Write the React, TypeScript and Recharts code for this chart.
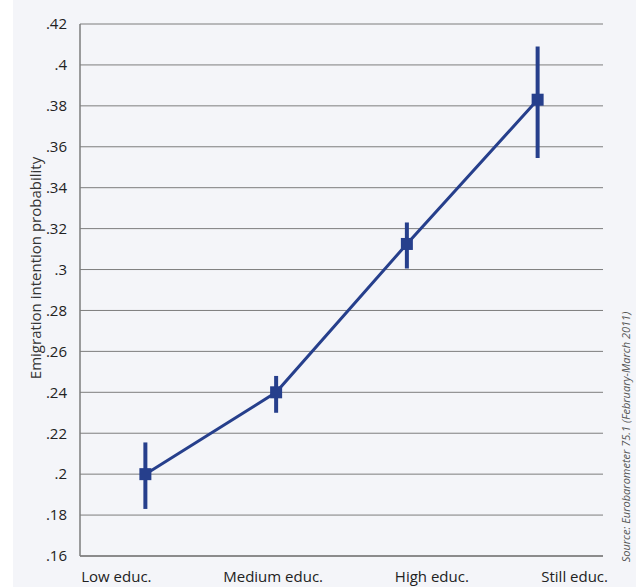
import React from 'react';
import {
    LineChart,
    Line,
    XAxis,
    YAxis,
    CartesianGrid,
    ErrorBar,
} from 'recharts';

// Education groups and estimated probabilities
const categories = ['Low educ.', 'Medium educ.', 'High educ.', 'Still educ.'];
const probability = [0.2, 0.24, 0.3125, 0.383];
const ciLow = [0.183, 0.23, 0.3005, 0.3545];
const ciHigh = [0.2155, 0.248, 0.323, 0.409];
const yTicks = [0.16, 0.18, 0.2, 0.22, 0.24, 0.26, 0.28, 0.3, 0.32, 0.34, 0.36, 0.38, 0.4, 0.42];

const chartData = categories.map((name, i) => ({
    name,
    value: probability[i],
    err: [probability[i] - ciLow[i], ciHigh[i] - probability[i]],
}));

const BLUE = '#263f8c';
const GRID = '#7d7d7d';
const FONT = '"Open Sans", "Noto Sans", sans-serif';

// the original labels are not centred under the points, nudge them
const labelShift = [-29, -3, 25, 37];

const fmt = (v: number) => String(Number(v.toFixed(2))).replace(/^0/, '');

// Square marker used at each estimate
const SquareDot = (props: any) => {
    const { cx, cy } = props;
    if (cx == null || cy == null) return null;
    return <rect x={cx - 6} y={cy - 6} width={12} height={12} fill={BLUE} />;
};

const XTick = (props: any) => {
    const { x, y, payload, index } = props;
    return (
        <text
            x={x + (labelShift[index] ?? 0)}
            y={y}
            dy="0.71em"
            textAnchor="middle"
            fill="#222"
            fontSize={15}
            fontFamily={FONT}
        >
            {payload.value}
        </text>
    );
};

const YLabel = () => (
    <text
        x={35}
        y={268}
        transform="rotate(-90 35 268)"
        textAnchor="middle"
        dominantBaseline="central"
        fill="#333"
        fontSize={15}
        fontFamily={FONT}
    >
        Emigration intention probability
    </text>
);

export default function App() {
    return (
        <div style={{ position: 'absolute', left: 0, top: 0, width: 636, height: 587, background: '#fff' }}>
            <div style={{ position: 'absolute', left: 13, top: 0, width: 623, height: 587, background: '#f4f5f9' }} />
            <div style={{ position: 'absolute', left: 0, top: 0 }}>
                <LineChart
                    width={636}
                    height={587}
                    data={chartData}
                    margin={{ top: 24, right: 33, left: 0, bottom: 0 }}
                >
                    <CartesianGrid vertical={false} stroke={GRID} strokeWidth={1} />
                    <XAxis
                        dataKey="name"
                        scale="band"
                        height={31}
                        axisLine={{ stroke: GRID, strokeWidth: 1.5 }}
                        tickLine={false}
                        tickSize={0}
                        tickMargin={15}
                        tick={<XTick />}
                        interval={0}
                    />
                    <YAxis
                        width={80}
                        domain={[0.16, 0.42]}
                        ticks={yTicks}
                        tickFormatter={fmt}
                        axisLine={{ stroke: GRID, strokeWidth: 1.5 }}
                        tickLine={false}
                        tickSize={0}
                        tickMargin={13}
                        interval={0}
                        tick={{ fill: '#222', fontSize: 15, fontFamily: FONT }}
                        label={<YLabel />}
                    />
                    <Line
                        type="linear"
                        dataKey="value"
                        stroke={BLUE}
                        strokeWidth={3}
                        dot={<SquareDot />}
                        activeDot={false}
                        isAnimationActive={false}
                    >
                        <ErrorBar dataKey="err" width={0} stroke={BLUE} strokeWidth={4} direction="y" />
                    </Line>
                </LineChart>
            </div>
            <div
                style={{
                    position: 'absolute',
                    left: 625,
                    top: 437,
                    transform: 'translate(-50%, -50%) rotate(-90deg)',
                    whiteSpace: 'nowrap',
                    fontFamily: FONT,
                    fontStyle: 'italic',
                    fontSize: 11,
                    color: '#555',
                }}
            >
                Source: Eurobarometer 75.1 (February-March 2011)
            </div>
        </div>
    );
}
